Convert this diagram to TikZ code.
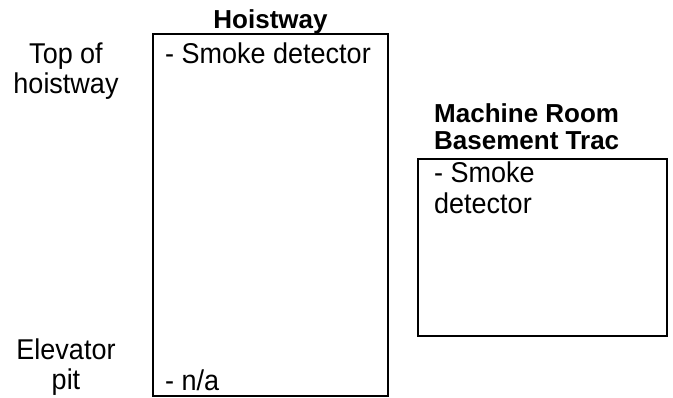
\documentclass[tikz,border=0pt]{standalone}
\usepackage{graphicx}
\usepackage{fontspec}
\setmainfont{Liberation Sans}
\usetikzlibrary{positioning}
\newcommand{\tallt}[1]{\scalebox{1}[1.06]{#1}}

\begin{document}
\begin{tikzpicture}[x=1pt,y=-1pt,
  room/.style={draw,line width=1.5pt,inner sep=0pt},
  txt/.style={font=\fontsize{27}{30}\selectfont,inner sep=0pt},
  hdr/.style={font=\fontsize{26}{30}\selectfont\bfseries,inner sep=0pt}]
\useasboundingbox (0,0) rectangle (673,398);
% hoistway
\node[room,minimum width=235pt,minimum height=362pt] (hoist) at (270.5,215) {};
\node[hdr,anchor=base] (hoisthdr) at (270.5,29) {Hoistway};
\node[txt,anchor=base west] (hoisttop) at (165,64) {\tallt{- Smoke detector}};
\node[txt,anchor=base west] (hoistpit) at (165,391) {\tallt{- n/a}};
% level labels
\node[txt,anchor=base] (topa) at (66,64) {\tallt{Top of}};
\node[txt,anchor=base] (topb) at (66,94) {\tallt{hoistway}};
\node[txt,anchor=base] (pita) at (66,360) {\tallt{Elevator}};
\node[txt,anchor=base] (pitb) at (66,390) {\tallt{pit}};
% machine room
\node[room,minimum width=249pt,minimum height=177pt] (mach) at (542.5,247.5) {};
\node[hdr,anchor=base west] (machhdra) at (434,123) {Machine Room};
\node[hdr,anchor=base west] (machhdrb) at (434,150) {Basement Trac};
\node[txt,anchor=base west] (macha) at (434,183) {\tallt{- Smoke}};
\node[txt,anchor=base west] (machb) at (434,214) {\tallt{detector}};
\end{tikzpicture}
\end{document}
